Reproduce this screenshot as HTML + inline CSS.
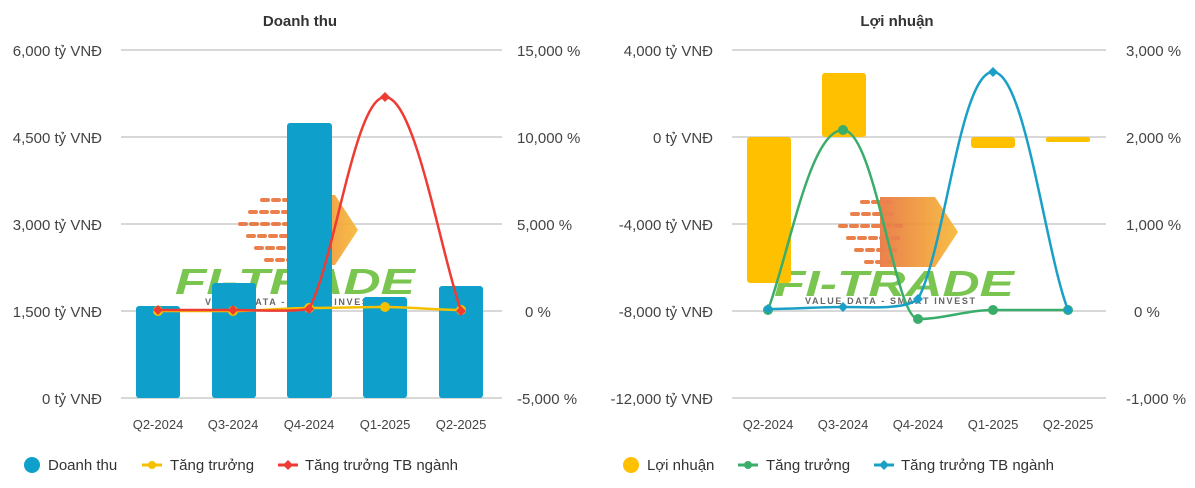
<!DOCTYPE html>
<html><head><meta charset="utf-8"><style>
body{margin:0;background:#fff;}
svg{display:block;font-family:"Liberation Sans",Arial,sans-serif;}
</style></head><body>
<svg width="1195" height="488" viewBox="0 0 1195 488">
<defs>
<linearGradient id="og" x1="0" x2="1"><stop offset="0" stop-color="#e8743a"/><stop offset="1" stop-color="#f7b733"/></linearGradient>
</defs>
<!-- LEFT CHART -->
<text x="300" y="26" text-anchor="middle" font-size="15" font-weight="bold" fill="#333">Doanh thu</text>
<g stroke="#cccccc" stroke-width="1.5">
<line x1="121" y1="50" x2="502" y2="50"/><line x1="121" y1="137" x2="502" y2="137"/><line x1="121" y1="224" x2="502" y2="224"/><line x1="121" y1="311" x2="502" y2="311"/><line x1="121" y1="398" x2="502" y2="398"/>
</g>
<g font-size="15" fill="#444" text-anchor="end">
<text x="102" y="56">6,000 tỷ VNĐ</text><text x="102" y="143">4,500 tỷ VNĐ</text><text x="102" y="230">3,000 tỷ VNĐ</text><text x="102" y="317">1,500 tỷ VNĐ</text><text x="102" y="404">0 tỷ VNĐ</text>
</g>
<g font-size="15" fill="#444">
<text x="517" y="56">15,000 %</text><text x="517" y="143">10,000 %</text><text x="517" y="230">5,000 %</text><text x="525" y="317">0 %</text><text x="517" y="404">-5,000 %</text>
</g>
<!-- watermark left -->
<g opacity="0.9">
<path d="M290 195 L335 195 L358 230 L335 265 L290 265 Z" fill="url(#og)"/>
<g stroke="#e8743a" stroke-width="4" stroke-linecap="round" stroke-dasharray="6 5">
<line x1="262" y1="200" x2="290" y2="200"/><line x1="250" y1="212" x2="295" y2="212"/><line x1="240" y1="224" x2="300" y2="224"/><line x1="248" y1="236" x2="298" y2="236"/><line x1="256" y1="248" x2="292" y2="248"/><line x1="266" y1="260" x2="290" y2="260"/>
</g>
<text x="175" y="294" font-size="36" font-weight="bold" font-style="italic" fill="#6cbf3e" textLength="240" lengthAdjust="spacingAndGlyphs">FI-TRADE</text>
<text x="205" y="305" font-size="9" font-weight="bold" fill="#555" textLength="170" lengthAdjust="spacing">VALUE DATA - SMART INVEST</text>
</g>
<g fill="#0ea0cb">
<rect x="136" y="306" width="44" height="92" rx="3"/>
<rect x="212" y="283" width="44" height="115" rx="3"/>
<rect x="287" y="123" width="45" height="275" rx="3"/>
<rect x="363" y="297" width="44" height="101" rx="3"/>
<rect x="439" y="286" width="44" height="112" rx="3"/>
</g>
<path d="M158 311 C183 311 208 311 233 311 C258 311 284 308 309 308 C334 308 360 307 385 307 C410 307 436 310 461 310" fill="none" stroke="#f5c000" stroke-width="2.5"/>
<g fill="#f5c000"><circle cx="158" cy="311" r="5"/><circle cx="233" cy="311" r="5"/><circle cx="309" cy="308" r="5"/><circle cx="385" cy="307" r="5"/><circle cx="461" cy="310" r="5"/></g>
<path d="M158 310 C183 310 208 310 233 310 C258 310 290 312 309 309 C335 260 355 97 385 97 C415 97 440 250 461 311" fill="none" stroke="#ee3b34" stroke-width="2.5"/>
<g fill="#ee3b34"><path d="M158 305 l5 5 -5 5 -5 -5z"/><path d="M233 305 l5 5 -5 5 -5 -5z"/><path d="M309 304 l5 5 -5 5 -5 -5z"/><path d="M385 92 l5 5 -5 5 -5 -5z"/><path d="M461 306 l5 5 -5 5 -5 -5z"/></g>
<g font-size="13" fill="#444" text-anchor="middle">
<text x="158" y="429">Q2-2024</text><text x="233" y="429">Q3-2024</text><text x="309" y="429">Q4-2024</text><text x="385" y="429">Q1-2025</text><text x="461" y="429">Q2-2025</text>
</g>
<g font-size="15" fill="#333">
<circle cx="32" cy="465" r="8" fill="#0ea0cb"/><text x="48" y="470">Doanh thu</text>
<line x1="142" y1="465" x2="162" y2="465" stroke="#f5c000" stroke-width="3"/><circle cx="152" cy="465" r="4" fill="#f5c000"/><text x="170" y="470">Tăng trưởng</text>
<line x1="278" y1="465" x2="298" y2="465" stroke="#ee3b34" stroke-width="3"/><path d="M288 460 l5 5 -5 5 -5 -5z" fill="#ee3b34"/><text x="305" y="470">Tăng trưởng TB ngành</text>
</g>

<!-- RIGHT CHART -->
<text x="897" y="26" text-anchor="middle" font-size="15" font-weight="bold" fill="#333">Lợi nhuận</text>
<g stroke="#cccccc" stroke-width="1.5">
<line x1="732" y1="50" x2="1106" y2="50"/><line x1="732" y1="137" x2="1106" y2="137"/><line x1="732" y1="224" x2="1106" y2="224"/><line x1="732" y1="311" x2="1106" y2="311"/><line x1="732" y1="398" x2="1106" y2="398"/>
</g>
<g font-size="15" fill="#444" text-anchor="end">
<text x="713" y="56">4,000 tỷ VNĐ</text><text x="713" y="143">0 tỷ VNĐ</text><text x="713" y="230">-4,000 tỷ VNĐ</text><text x="713" y="317">-8,000 tỷ VNĐ</text><text x="713" y="404">-12,000 tỷ VNĐ</text>
</g>
<g font-size="15" fill="#444">
<text x="1126" y="56">3,000 %</text><text x="1126" y="143">2,000 %</text><text x="1126" y="230">1,000 %</text><text x="1134" y="317">0 %</text><text x="1126" y="404">-1,000 %</text>
</g>
<g opacity="0.9">
<path d="M880 197 L935 197 L958 232 L935 267 L880 267 Z" fill="url(#og)"/>
<g stroke="#e8743a" stroke-width="4" stroke-linecap="round" stroke-dasharray="6 5">
<line x1="862" y1="202" x2="890" y2="202"/><line x1="852" y1="214" x2="895" y2="214"/><line x1="840" y1="226" x2="905" y2="226"/><line x1="848" y1="238" x2="902" y2="238"/><line x1="856" y1="250" x2="895" y2="250"/><line x1="866" y1="262" x2="890" y2="262"/>
</g>
<text x="774" y="296" font-size="36" font-weight="bold" font-style="italic" fill="#6cbf3e" textLength="240" lengthAdjust="spacingAndGlyphs">FI-TRADE</text>
<text x="805" y="304" font-size="9" font-weight="bold" fill="#555" textLength="170" lengthAdjust="spacing">VALUE DATA - SMART INVEST</text>
</g>
<g fill="#ffc000">
<rect x="747" y="137" width="44" height="146" rx="3"/>
<rect x="822" y="73" width="44" height="64" rx="3"/>
<rect x="971" y="137" width="44" height="11" rx="3"/>
<rect x="1046" y="137" width="44" height="5" rx="2"/>
</g>
<path d="M768 310 C790 250 810 130 843 130 C875 130 895 319 918 319 C943 319 968 310 993 310 C1018 310 1043 310 1068 310" fill="none" stroke="#3aad6a" stroke-width="2.5"/>
<g fill="#3aad6a"><circle cx="768" cy="310" r="5"/><circle cx="843" cy="130" r="5"/><circle cx="918" cy="319" r="5"/><circle cx="993" cy="310" r="5"/><circle cx="1068" cy="310" r="5"/></g>
<path d="M768 309 C793 309 818 307 843 307 C868 307 905 310 918 299 C945 250 960 72 993 72 C1025 72 1045 250 1068 310" fill="none" stroke="#1aa0c6" stroke-width="2.5"/>
<g fill="#1aa0c6"><path d="M768 304 l5 5 -5 5 -5 -5z"/><path d="M843 302 l5 5 -5 5 -5 -5z"/><path d="M918 294 l5 5 -5 5 -5 -5z"/><path d="M993 67 l5 5 -5 5 -5 -5z"/><path d="M1068 305 l5 5 -5 5 -5 -5z"/></g>
<g font-size="13" fill="#444" text-anchor="middle">
<text x="768" y="429">Q2-2024</text><text x="843" y="429">Q3-2024</text><text x="918" y="429">Q4-2024</text><text x="993" y="429">Q1-2025</text><text x="1068" y="429">Q2-2025</text>
</g>
<g font-size="15" fill="#333">
<circle cx="631" cy="465" r="8" fill="#ffc000"/><text x="647" y="470">Lợi nhuận</text>
<line x1="738" y1="465" x2="758" y2="465" stroke="#3aad6a" stroke-width="3"/><circle cx="748" cy="465" r="4" fill="#3aad6a"/><text x="766" y="470">Tăng trưởng</text>
<line x1="874" y1="465" x2="894" y2="465" stroke="#1aa0c6" stroke-width="3"/><path d="M884 460 l5 5 -5 5 -5 -5z" fill="#1aa0c6"/><text x="901" y="470">Tăng trưởng TB ngành</text>
</g>
</svg>
</body></html>
